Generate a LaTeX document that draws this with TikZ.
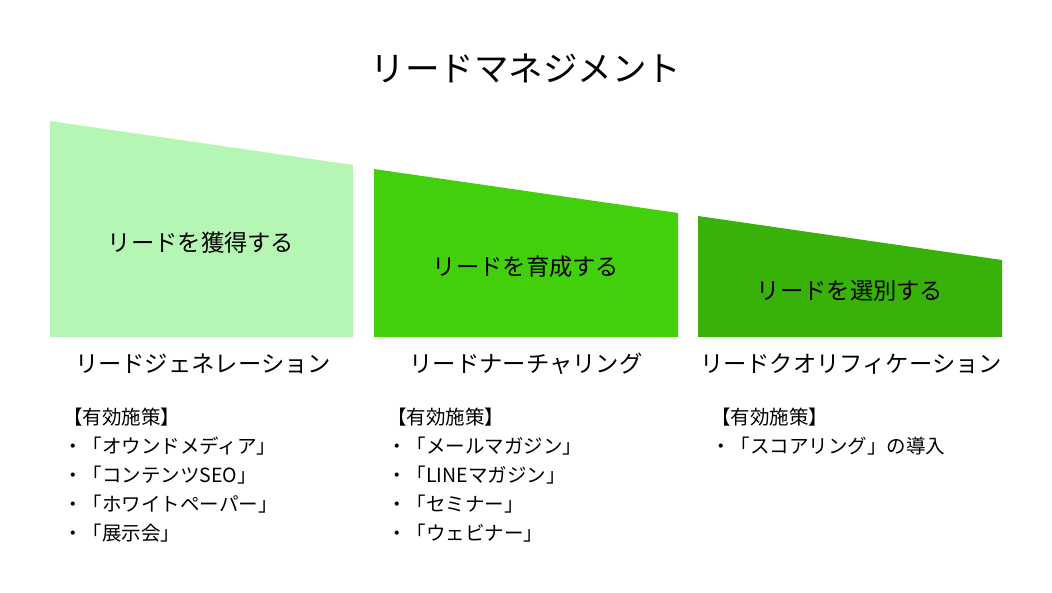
\documentclass[tikz,border=0pt]{standalone}
\usepackage{fontspec}
\setmainfont{Noto Sans CJK JP}
\definecolor{acquire}{RGB}{182,246,180}
\definecolor{nurture}{RGB}{66,208,12}
\definecolor{choose}{RGB}{56,178,8}
\begin{document}
\begin{tikzpicture}[x=1pt,y=-1pt,
    stage/.style={inner sep=0pt,font=\fontsize{23.3}{27}\selectfont},
    item/.style={anchor=west,inner sep=0pt,font=\fontsize{19.5}{23}\selectfont}]
    \useasboundingbox (0,0) rectangle (1052,592);
    \node (title) at (526,68) {\fontsize{34.5}{40}\selectfont リードマネジメント};
    % three falling blocks
    \fill[acquire] (50,121)--(353,165)--(353,337)--(50,337)--cycle;
    \fill[nurture] (374,169)--(678,213)--(678,337)--(374,337)--cycle;
    \fill[choose] (698,216)--(1002,260)--(1002,337)--(698,337)--cycle;
    \node[stage] (acq) at (201,243) {リードを獲得する};
    \node[stage] (nur) at (526,267) {リードを育成する};
    \node[stage] (sel) at (850,291) {リードを選別する};
    \node[stage] (gen) at (203,364) {リードジェネレーション};
    \node[stage] (nrt) at (526,364) {リードナーチャリング};
    \node[stage] (qual) at (851,364) {リードクオリフィケーション};
    % measures
    \foreach \t [count=\i] in {【有効施策】,・「オウンドメディア」,・「コンテンツSEO」,・「ホワイトペーパー」,・「展示会」}
    \node[item] (ga\i) at (63,388+29*\i) {\t};
    \foreach \t [count=\i] in {【有効施策】,・「メールマガジン」,・「LINEマガジン」,・「セミナー」,・「ウェビナー」}
    \node[item] (na\i) at (387,388+29*\i) {\t};
    \foreach \t [count=\i] in {【有効施策】,・「スコアリング」の導入}
    \node[item] (qa\i) at (711,388+29*\i) {\t};
\end{tikzpicture}
\end{document}
